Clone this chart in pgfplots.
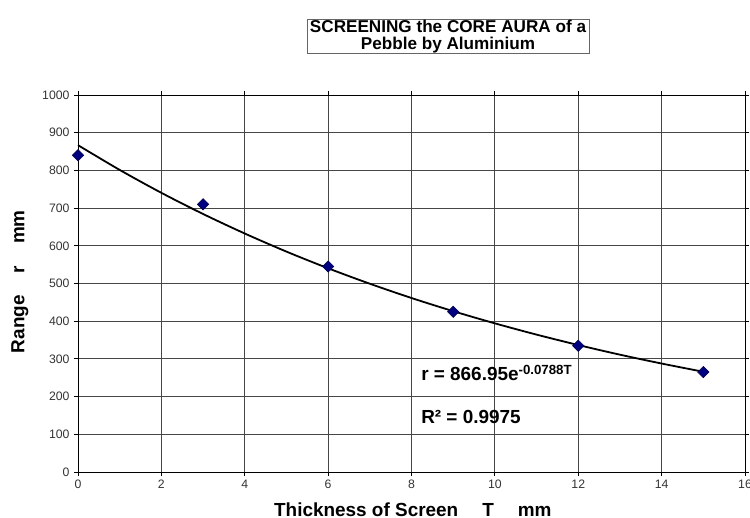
\documentclass[border=0pt]{standalone}
\usepackage{fontspec}
\setmainfont{Liberation Sans}
\usepackage{pgfplots}
\pgfplotsset{compat=1.18}

\definecolor{navy}{RGB}{0,0,128}
\definecolor{gridgray}{RGB}{70,70,70}

\begin{document}
\begin{tikzpicture}
	% fix page size to 750 x 518
	\useasboundingbox (-78bp,-46bp) rectangle (672bp,472bp);

	\begin{axis}[
			scale only axis,
			width             = 667bp,
			height            = 377bp,
			xmin              = 0,
			xmax              = 16,
			ymin              = 0,
			ymax              = 1000,
			xtick             = {0,2,...,16},
			ytick             = {0,100,...,1000},
			grid              = major,
			grid style        = {gridgray, line width=0.8bp},
			axis line style   = {black, line width=0.9bp},
			tick align        = outside,
			major tick length = 4bp,
			tick style        = {black, line width=0.8bp},
			/pgf/number format/assume math mode=true,
			/pgf/number format/1000 sep={},
			ticklabel style   = {font=\fontsize{12.3}{14}\selectfont, text=black!80},
			xticklabel style  = {yshift=-0.5bp},
			yticklabel style  = {xshift=-1bp},
			xlabel            = {\textbf{Thickness of Screen\hspace{24bp}T\hspace{24bp}mm}},
			xlabel style      = {font=\fontsize{19}{21}\selectfont, inner sep=0pt, at={(axis description cs:0.502,-0.101)}, anchor=center},
			ylabel            = {\textbf{Range\hspace{22bp}r\hspace{22bp}mm}},
			ylabel style      = {font=\fontsize{19}{21}\selectfont, inner sep=0pt, at={(axis description cs:-0.087,0.505)}, anchor=center, rotate=0},
			clip              = false
		]

		% trend line r = 866.95 e^{-0.0788 T}, values read at each mm
		\addplot [black, line width=1.8bp, smooth, no marks] coordinates {
			(0,866.95)(1,801.3)(2,740.5)(3,684.4)(4,632.6)(5,584.6)(6,540.3)(7,499.4)
			(8,461.5)(9,426.6)(10,394.3)(11,364.4)(12,336.8)(13,311.2)(14,287.7)(15,265.9)
		};

		% measured points
		\addplot [
			only marks,
			mark=square*,
			mark size=4bp,
			mark options={rotate=45, fill=navy, draw=navy!60!black, line width=0.6bp}
		] coordinates {(0,840)(3,710)(6,545)(9,425)(12,335)(15,265)};

		\node[anchor=west, font=\fontsize{19}{21}\selectfont\bfseries] at (axis cs:8.15,262)
			{r = 866.95e\textsuperscript{-0.0788T}};
		\node[anchor=west, font=\fontsize{19}{21}\selectfont\bfseries] at (axis cs:8.15,147)
			{R² = 0.9975};
	\end{axis}

	% title box
	\node[draw=black!60, line width=0.8bp, fill=white, align=center, inner xsep=3bp, inner ysep=0.5bp,
		font=\fontsize{17.2}{17.5}\selectfont\bfseries] at (370bp,435.5bp)
		{SCREENING the CORE AURA of a\\Pebble by Aluminium};
\end{tikzpicture}
\end{document}
